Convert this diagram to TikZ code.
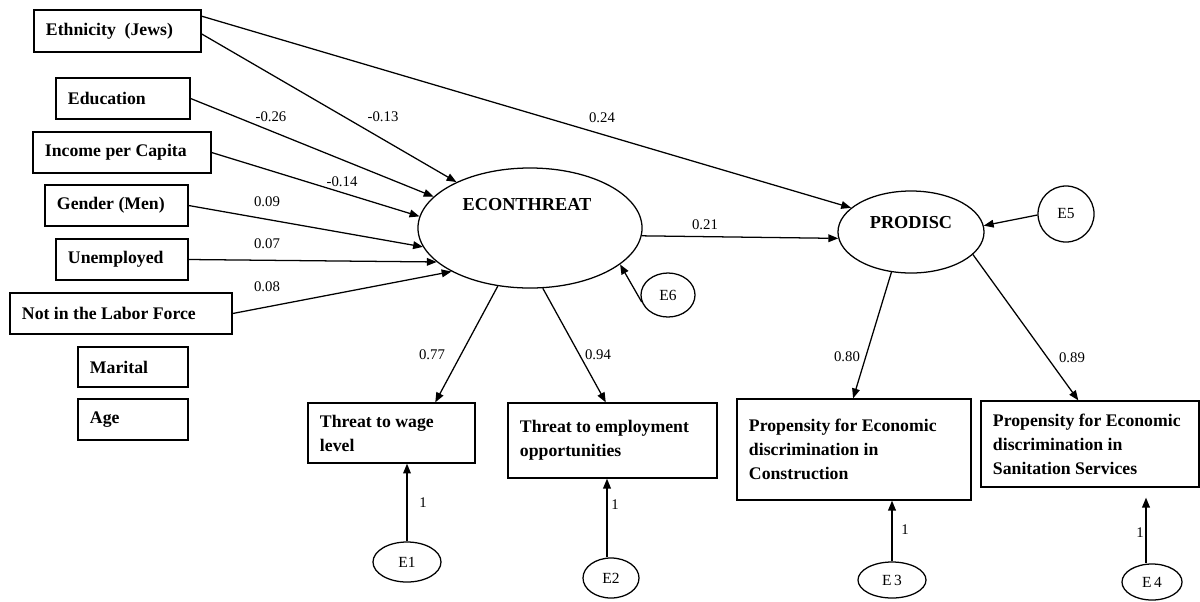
\documentclass[tikz,border=0pt]{standalone}
\usepackage{fontspec}
\setmainfont{Liberation Serif}
\usetikzlibrary{arrows.meta,shapes.geometric}

\tikzset{
  box/.style={draw, line width=0.9pt, rectangle, inner xsep=0.3cm, inner ysep=0pt,
    align=flush left, font=\fontsize{12.6}{17}\selectfont\bfseries},
  latent/.style={draw, line width=0.9pt, ellipse, inner sep=0pt},
  errvar/.style={draw, line width=0.9pt, ellipse, inner sep=0pt,
    font=\fontsize{11}{13}\selectfont},
  title/.style={font=\fontsize{13}{15}\selectfont\bfseries, inner sep=0pt},
  coef/.style={font=\fontsize{10.5}{12}\selectfont, inner sep=1pt},
  path/.style={line width=0.9pt, -{Triangle[length=7pt,width=5.5pt]}}
}

\begin{document}
\begin{tikzpicture}[x=0.025cm, y=-0.025cm]
\useasboundingbox (0,0) rectangle (1200,601);

% observed predictors
\node[box, minimum width=4.175cm, minimum height=1.05cm, text width=3.575cm]  (eth)   at (117.5,31)   {Ethnicity\ \ (Jews)};
\node[box, minimum width=3.35cm,  minimum height=1.025cm, text width=2.75cm]  (edu)   at (123,98.5)   {Education};
\node[box, minimum width=4.45cm,  minimum height=1.025cm, text width=3.85cm]  (inc)   at (122,152.5)  {Income per Capita};
\node[box, minimum width=3.575cm, minimum height=1.025cm, text width=2.975cm] (gen)   at (116.5,205.5) {Gender (Men)};
\node[box, minimum width=3.3cm,   minimum height=1.025cm, text width=2.7cm]   (unemp) at (122,259.5)  {Unemployed};
\node[box, minimum width=5.55cm,  minimum height=1.025cm, text width=4.95cm]  (nilf)  at (121,313.5)  {Not in the Labor Force};
\node[box, minimum width=2.75cm,  minimum height=1.0cm,   text width=2.15cm]  (mar)   at (133,367)    {Marital};
\node[box, minimum width=2.75cm,  minimum height=1.025cm, text width=2.15cm]  (age)   at (133,419.5)  {Age};

% latent variables
\node[latent, minimum width=5.6cm, minimum height=3.0cm] (econ) at (530,228) {};
\node[title] (econlbl) at (527,205) {ECONTHREAT};
\node[latent, minimum width=3.65cm, minimum height=2.05cm] (prodisc) at (911,232) {};
\node[title] (prodlbl) at (911,223) {PRODISC};

% indicators
\node[box, minimum width=4.175cm, minimum height=1.5cm,   text width=3.575cm] (wage)   at (391.5,433)  {Threat to wage\\level};
\node[box, minimum width=5.225cm, minimum height=1.875cm, text width=4.625cm] (emp)    at (612.5,440.5) {Threat to employment\\opportunities};
\node[box, minimum width=5.85cm,  minimum height=2.525cm, text width=5.25cm]  (constr) at (854,449.5)  {Propensity for Economic\\discrimination in\\Construction\\[3pt]};
\node[box, minimum width=5.45cm,  minimum height=2.15cm,  text width=4.85cm]  (sanit)  at (1090,444)   {Propensity for Economic\\discrimination in\\Sanitation Services};

% error terms
\node[errvar, minimum width=1.4cm,  minimum height=1.4cm] (e5) at (1066,214) {E5};
\node[errvar, minimum width=1.35cm, minimum height=1.1cm] (e6) at (668,295)  {E6};
\node[errvar, minimum width=1.7cm,  minimum height=1.0cm] (e1) at (407,562)  {E1};
\node[errvar, minimum width=1.4cm,  minimum height=1.0cm] (e2) at (611,578)  {E2};
\node[errvar, minimum width=1.7cm,  minimum height=0.9cm] (e3) at (892,580)  {E\,3};
\node[errvar, minimum width=1.5cm,  minimum height=0.9cm] (e4) at (1152,582) {E\,4};

% structural paths
\draw[path] (eth.10.85) -- (prodisc.158.6);
\draw[path] (eth.-2.7)  -- (econ.148);
\draw[path] (edu.east)  -- (econ.162);
\draw[path] (inc.east)  -- (econ.174);
\draw[path] (gen.east)  -- (econ.190);
\draw[path] (unemp.east) -- (econ.200);
\draw[path] (nilf.east) -- (econ.209);
\draw[path] (econ.-4)   -- (prodisc.185);
\draw[path] (e6.195)    -- (econ.-22);
\draw[path] (e5.182)    -- (prodisc.5);

% measurement paths
\draw[path] (econ.241.5) -- (wage.35);
\draw[path] (econ.282)   -- (emp.100);
\draw[path] (prodisc.244) -- (constr.91);
\draw[path] (prodisc.-20) -- (sanit.105);

% error paths
\draw[path] (e1.north) -- (e1.north |- wage.south);
\draw[path] ([xshift=-0.1cm]e2.north) -- ([xshift=-0.1cm]e2.north |- emp.south);
\draw[path] (e3.north) -- (e3.north |- constr.south);
\draw[path, shorten >=0.25cm] ([xshift=-0.15cm]e4.north) -- ([xshift=-0.15cm]e4.north |- sanit.south);

% coefficients
\node[coef] (c24)  at (602,118) {0.24};
\node[coef] (c13)  at (383,117) {-0.13};
\node[coef] (c26)  at (271,117) {-0.26};
\node[coef] (c14)  at (342,182) {-0.14};
\node[coef] (c09)  at (267,202) {0.09};
\node[coef] (c07)  at (267,244) {0.07};
\node[coef] (c08)  at (267,287) {0.08};
\node[coef] (c21)  at (705,225) {0.21};
\node[coef] (c77)  at (432,355) {0.77};
\node[coef] (c94)  at (598,355) {0.94};
\node[coef] (c80)  at (847,357) {0.80};
\node[coef] (c89)  at (1072,358) {0.89};
\node[coef] (one1) at (423,503) {1};
\node[coef] (one2) at (615,505) {1};
\node[coef] (one3) at (905,530) {1};
\node[coef] (one4) at (1140,533) {1};
\end{tikzpicture}
\end{document}
